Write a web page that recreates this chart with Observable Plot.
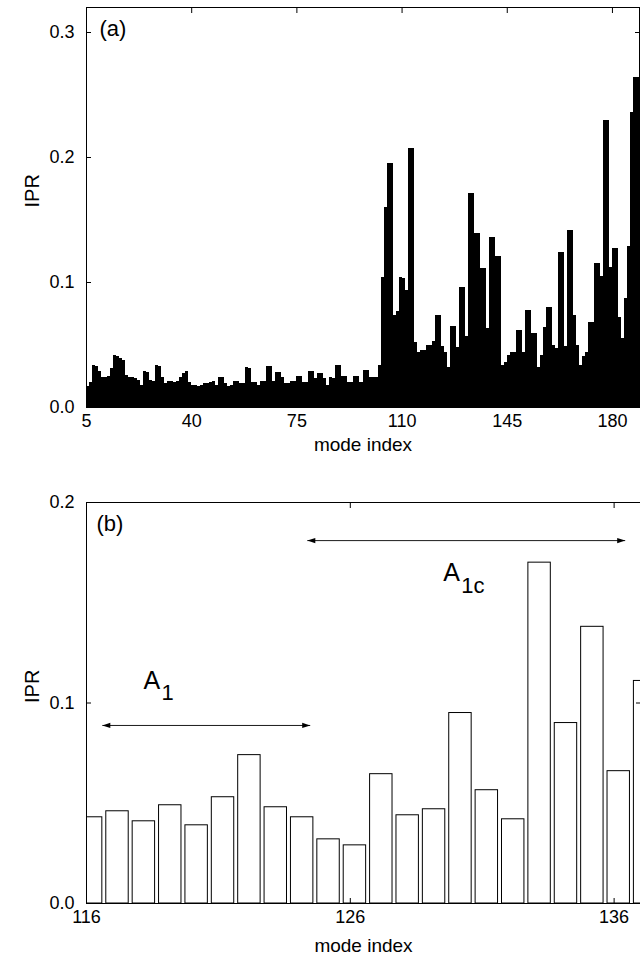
<!DOCTYPE html>
<html><head><meta charset="utf-8">
<script src="https://cdn.jsdelivr.net/npm/d3@7"></script>
<script src="https://cdn.jsdelivr.net/npm/@observablehq/plot@0.6"></script>
<style>
html,body{margin:0;padding:0;background:#fff;}
#chart svg{display:block;}
</style></head><body><div id="chart"></div>
<script>
// ---- Panel (a): IPR for mode index 5..188 ----
const modesA = d3.range(5, 189);
const iprA = [
  0.017,0.020,0.034,0.033,0.029,0.024,0.024,0.025,0.031,0.042, // 5-14
  0.041,0.039,0.038,0.026,0.024,0.024,0.023,0.022,0.018,0.029, // 15-24
  0.028,0.022,0.021,0.034,0.033,0.024,0.019,0.021,0.021,0.020, // 25-34
  0.021,0.024,0.027,0.029,0.020,0.018,0.018,0.017,0.018,0.019, // 35-44
  0.019,0.020,0.021,0.018,0.024,0.024,0.019,0.017,0.018,0.021, // 45-54
  0.021,0.019,0.019,0.032,0.031,0.020,0.020,0.018,0.021,0.021, // 55-64
  0.033,0.033,0.021,0.028,0.028,0.024,0.019,0.019,0.021,0.021, // 65-74
  0.025,0.025,0.020,0.020,0.029,0.029,0.023,0.027,0.027,0.023, // 75-84
  0.018,0.024,0.023,0.034,0.034,0.025,0.025,0.020,0.020,0.025, // 85-94
  0.025,0.020,0.030,0.030,0.024,0.024,0.024,0.034,0.104,0.160, // 95-104
  0.195,0.195,0.074,0.077,0.104,0.103,0.094,0.207,0.207,0.052, // 105-114
  0.044,0.046,0.046,0.050,0.050,0.053,0.074,0.074,0.049,0.044, // 115-124
  0.032,0.065,0.065,0.048,0.096,0.096,0.057,0.171,0.171,0.139, // 125-134
  0.139,0.111,0.111,0.063,0.136,0.136,0.121,0.121,0.034,0.036, // 135-144
  0.042,0.044,0.044,0.062,0.062,0.044,0.078,0.078,0.059,0.059, // 145-154
  0.032,0.042,0.064,0.080,0.080,0.050,0.047,0.124,0.124,0.049, // 155-164
  0.142,0.142,0.074,0.050,0.034,0.041,0.044,0.068,0.068,0.115, // 165-174
  0.115,0.105,0.230,0.230,0.112,0.127,0.127,0.072,0.055,0.087, // 175-184
  0.129,0.236,0.264,0.264                                      // 185-188
];
const ticksXA = [5, 40, 75, 110, 145, 180];
const ticksYA = [0, 0.1, 0.2, 0.3];

// ---- Panel (b): zoom on modes 116..137 ----
const modesB = [116,117,118,119,120,121,122,123,124,125,126,127,128,129,130,131,132,133,134,135,136,137];
const iprB = [0.043,0.046,0.041,0.049,0.039,0.053,0.074,0.048,0.043,0.032,0.029,
              0.0645,0.044,0.047,0.095,0.0565,0.042,0.170,0.090,0.138,0.066,0.111];
const ticksXB = [116, 126, 136];
const ticksYB = [0, 0.1, 0.2];

// annotation ranges (mode index from..to, IPR level)
const spanFrom = [116.6, 124.37];
const spanTo   = [124.48, 136.42];
const spanIPR  = [0.0888, 0.181];
const labelMain = ["A", "A"];
const labelSub  = ["1", "1c"];
const labelMode = [118.16, 129.52];
const labelIPR  = [0.1112, 0.1646];

const dataA = modesA.map((m, i) => ({mode: m, ipr: iprA[i]}));
const dataB = modesB.map((m, i) => ({mode: m, ipr: iprB[i]}));
const spans = spanFrom.map((f, i) => ({from: f, to: spanTo[i], ipr: spanIPR[i]}));
const labels = labelMain.map((t, i) => ({main: t, sub: labelSub[i], mode: labelMode[i], ipr: labelIPR[i]}));

const font = "'Liberation Sans', Arial, Helvetica, sans-serif";
const headRight = {draw(c){c.moveTo(0,0); c.lineTo(-8,-2.6); c.lineTo(-8,2.6); c.closePath();}};
const headLeft  = {draw(c){c.moveTo(0,0); c.lineTo(8,-2.6); c.lineTo(8,2.6); c.closePath();}};

function axes(tx, ty, fmtX) {
  return [
    Plot.axisX({anchor: "bottom", ticks: tx, tickSize: -5, tickPadding: 12, tickFormat: fmtX, label: null}),
    Plot.axisX({anchor: "top", ticks: tx, tickSize: -5, tickFormat: () => "", label: null}),
    Plot.axisY({anchor: "left", ticks: ty, tickSize: -5, tickPadding: 17, tickFormat: d3.format(".1f"), label: null}),
    Plot.axisY({anchor: "right", ticks: ty, tickSize: -5, tickFormat: () => "", label: null})
  ];
}

const plotA = Plot.plot({
  width: 640, height: 455,
  marginLeft: 86, marginRight: 1, marginTop: 7, marginBottom: 48,
  style: {fontFamily: font, fontSize: "18px", background: "white", color: "black"},
  x: {domain: [5, 189]},
  y: {domain: [0, 0.32]},
  marks: [
    Plot.rectY(dataA, {x1: "mode", x2: d => d.mode + 1, y: "ipr", fill: "black", shapeRendering: "crispEdges"}),
    Plot.frame({stroke: "black", strokeWidth: 1}),
    ...axes(ticksXA, ticksYA, d3.format("d")),
    Plot.text(["(a)"], {frameAnchor: "top-left", textAnchor: "start", lineAnchor: "middle", dx: 13, dy: 21, fontSize: 22}),
    Plot.text(["mode index"], {frameAnchor: "bottom", lineAnchor: "middle", dy: 37, fontSize: 19}),
    Plot.text(["IPR"], {frameAnchor: "left", dx: -54, rotate: -90, fontSize: 20})
  ]
});

const plotB = Plot.plot({
  width: 640, height: 500,
  marginLeft: 86, marginRight: 0, marginTop: 47, marginBottom: 52,
  style: {fontFamily: font, fontSize: "18px", background: "white", color: "black"},
  x: {domain: [116, 137]},
  y: {domain: [0, 0.2]},
  marks: [
    Plot.rectY(dataB, {x1: d => d.mode - 0.25, x2: d => d.mode + 0.6, y: "ipr", fill: "white", stroke: "black", strokeWidth: 1, clip: true}),
    Plot.frame({stroke: "black", strokeWidth: 1}),
    ...axes(ticksXB, ticksYB, d3.format("d")),
    Plot.link(spans, {x1: "from", x2: "to", y1: "ipr", y2: "ipr", stroke: "black", strokeWidth: 0.9}),
    Plot.dot(spans, {x: "to", y: "ipr", symbol: headRight, fill: "black", stroke: null}),
    Plot.dot(spans, {x: "from", y: "ipr", symbol: headLeft, fill: "black", stroke: null}),
    Plot.text(labels, {x: "mode", y: "ipr", text: "main", textAnchor: "start", fontSize: 25}),
    Plot.text(labels, {x: "mode", y: "ipr", text: "sub", textAnchor: "start", dx: 18, dy: 12, fontSize: 22}),
    Plot.text(["(b)"], {frameAnchor: "top-left", textAnchor: "start", lineAnchor: "middle", dx: 10, dy: 21, fontSize: 22}),
    Plot.text(["mode index"], {frameAnchor: "bottom", lineAnchor: "middle", dy: 42, fontSize: 19}),
    Plot.text(["IPR"], {frameAnchor: "left", dx: -54, rotate: -90, fontSize: 20})
  ]
});

const root = document.getElementById("chart");
root.appendChild(plotA);
root.appendChild(plotB);
</script>
</body></html>
